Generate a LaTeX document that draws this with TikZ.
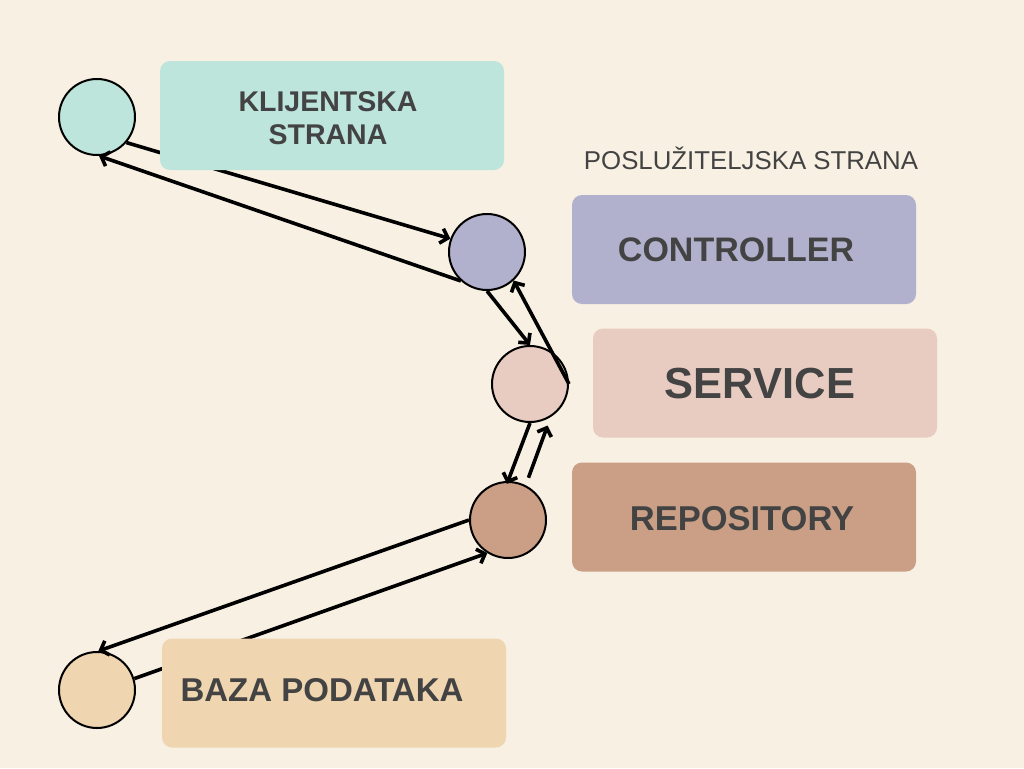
\documentclass[tikz,border=0pt]{standalone}
\usepackage{fontspec}
\setmainfont{Liberation Sans}
\usetikzlibrary{arrows.meta}
\definecolor{bgc}{HTML}{F8F0E2}
\definecolor{cli}{HTML}{BDE5DC}
\definecolor{ctl}{HTML}{B2B1CD}
\definecolor{srv}{HTML}{E8CCC1}
\definecolor{rep}{HTML}{CA9F86}
\definecolor{dbc}{HTML}{EFD5B0}
\definecolor{txt}{HTML}{434343}
\tikzset{
  circ/.style={circle, draw=black, line width=2pt, minimum size=76pt, inner sep=0pt},
  box/.style={rounded corners=10pt, minimum width=344pt, minimum height=109pt, inner sep=0pt},
  lbl/.style={text=txt, font=\bfseries, inner sep=0pt, align=center},
  flow/.style={line width=3.6pt, -{Straight Barb[length=7pt,width=15pt]}},
}
\begin{document}
\begin{tikzpicture}[x=1pt,y=-1pt]
\fill[bgc] (0,0) rectangle (1024,768);
\useasboundingbox (0,0) rectangle (1024,768);
% circles
\node[circ, fill=cli] (c1) at (97,117) {};
\node[circ, fill=ctl] (c2) at (487,252) {};
\node[circ, fill=srv] (c3) at (530,384) {};
\node[circ, fill=rep] (c4) at (508,520) {};
\node[circ, fill=dbc] (c5) at (97,690) {};
% connectors
\draw[flow] (c1.-41) -- (c2.160);
\draw[flow] (c2.-132) -- (c1.-87);
\draw[flow] (c2.-90) -- (c3.90);
\draw[flow] (c3.0) -- (c2.-47);
\draw[flow, shorten >=-3pt] (c3.-90) -- (c4.90);
\draw[flow, shorten <=8pt, shorten >=9pt] (c4.63) -- (c3.-58);
\draw[flow] (c4.180) -- (c5.88);
\draw[flow] (c5.17) -- (c4.-122);
% boxes
\node[box, fill=cli] (bcli) at (332,115.5) {};
\node[box, fill=ctl] (bctl) at (744,249.5) {};
\node[box, fill=srv] (bsrv) at (765,383) {};
\node[box, fill=rep] (brep) at (744,517) {};
\node[box, fill=dbc] (bdb) at (334,693) {};
% labels
\node[lbl, font=\bfseries\fontsize{28.5}{33}\selectfont] (tcli) at (328,118) {KLIJENTSKA\\STRANA};
\node[lbl, font=\bfseries\fontsize{34}{40}\selectfont] (tctl) at (736,250) {CONTROLLER};
\node[lbl, font=\bfseries\fontsize{43.5}{50}\selectfont] (tsrv) at (760,384) {SERVICE};
\node[lbl, font=\bfseries\fontsize{34.5}{40}\selectfont] (trep) at (742,519) {REPOSITORY};
\node[lbl, font=\bfseries\fontsize{33}{38}\selectfont] (tdb) at (322,690) {BAZA PODATAKA};
\node[text=txt, inner sep=0pt, font=\fontsize{25.8}{30}\selectfont] (tsrvside) at (751,158) {POSLUŽITELJSKA STRANA};
\end{tikzpicture}
\end{document}
